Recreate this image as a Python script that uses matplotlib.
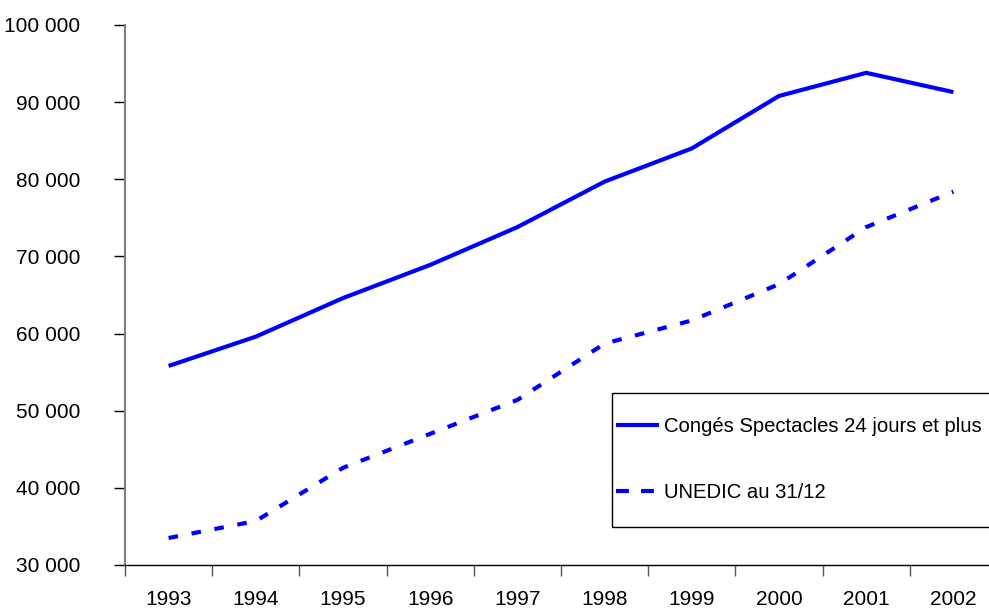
import matplotlib
matplotlib.use("Agg")
from matplotlib import pyplot as plt
from matplotlib.ticker import FuncFormatter, FixedLocator
from matplotlib.patches import Rectangle

plt.rcParams['font.family'] = ['Liberation Sans', 'DejaVu Sans']

# données
annees = ["1993", "1994", "1995", "1996", "1997", "1998", "1999", "2000", "2001", "2002"]
conges = [55800, 59600, 64600, 68900, 73800, 79700, 84000, 90800, 93800, 91300]
unedic = [33500, 35700, 42600, 47000, 51400, 58700, 61700, 66400, 73800, 78400]

fig = plt.figure(figsize=(9.89, 6.11), dpi=100)
ax = fig.add_axes([125/989, 46/611, 872/989, 540/611])

x = list(range(len(annees)))
ax.plot(x, conges, color="#0000FF", lw=3, solid_capstyle="butt",
        label="Congés Spectacles 24 jours et plus")
l2, = ax.plot(x, unedic, color="#0000FF", lw=3, dash_capstyle="butt",
              label="UNEDIC au 31/12")
l2.set_dashes([2.3, 3.3])

ax.set_xlim(-0.5, len(annees) - 0.5)
ax.set_ylim(30000, 100000)
ax.set_yticks(range(30000, 100001, 10000))
ax.yaxis.set_major_formatter(FuncFormatter(lambda v, p: f"{int(v):,}".replace(",", " ")))

ax.set_xticks(x)
ax.set_xticklabels(annees)
ax.xaxis.set_minor_locator(FixedLocator([i - 0.5 for i in range(len(annees) + 1)]))
ax.tick_params(axis="x", which="major", length=0, pad=18, labelsize=15)
ax.tick_params(axis="x", which="minor", length=8, width=1, color="#555555", direction="out")
ax.tick_params(axis="y", length=8, width=1, direction="out", pad=24, labelsize=15)

for s in ["top", "right"]:
    ax.spines[s].set_visible(False)
ax.spines["left"].set_color("#808080")
ax.spines["left"].set_linewidth(1.5)
ax.spines["bottom"].set_color("black")
ax.spines["bottom"].set_linewidth(1)

# cadre de la légende
fig.patches.append(Rectangle((612/989, 1 - 527/611), 400/989, 134/611,
                             transform=fig.transFigure, fill=False,
                             edgecolor="black", lw=1))
leg = ax.legend(loc="upper left", bbox_to_anchor=(616/989, 1 - 417/611),
                bbox_transform=fig.transFigure, fontsize=14.6, frameon=False,
                handlelength=2.1, handletextpad=0.25, labelspacing=2.3,
                borderpad=0, borderaxespad=0)
leg.get_lines()[1].set_dashes([3.1, 2.9])

fig.savefig("out.png", dpi=100)
